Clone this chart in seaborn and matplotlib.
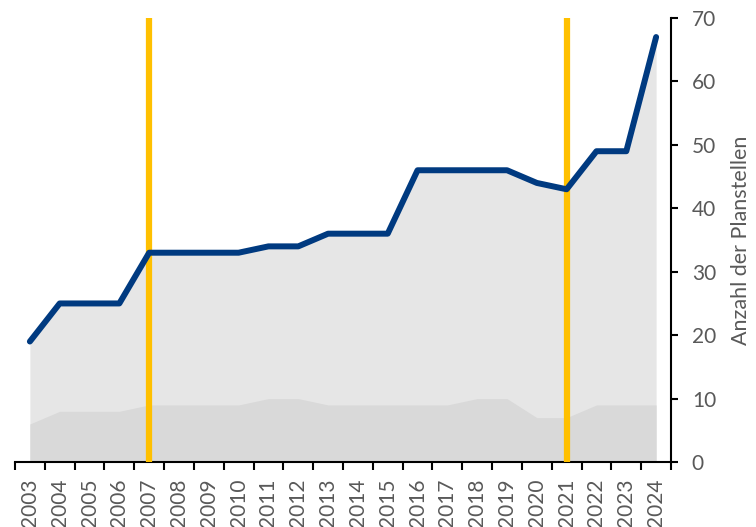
import numpy as np
import pandas as pd
import seaborn as sns
from matplotlib import pyplot as plt
from matplotlib.ticker import FixedLocator, NullFormatter

years = list(range(2003, 2025))
planstellen = [19, 25, 25, 25, 33, 33, 33, 33, 34, 34, 36, 36, 36, 46, 46, 46, 46, 44, 43, 49, 49, 67]
lower_part = [6, 8, 8, 8, 9, 9, 9, 9, 10, 10, 9, 9, 9, 9, 9, 10, 10, 7, 7, 9, 9, 9]
marker_years = [2007, 2021]

BLUE = "#003A80"
ORANGE = "#FFC000"
GRAY_TXT = "#595959"

sns.set_style("white")
plt.rcParams["font.family"] = ["Lato", "DejaVu Sans"]

df = pd.DataFrame({"pos": np.arange(len(years)), "year": years,
                   "total": planstellen, "lower": lower_part})

fig = plt.figure(figsize=(7.56, 5.27), dpi=100)
ax = fig.add_axes([0.0198, 0.1233, 0.8678, 0.8425])

ax.fill_between(df["pos"], 0, df["total"], color="#E6E6E6", linewidth=0)
ax.fill_between(df["pos"], 0, df["lower"], color="#D9D9D9", linewidth=0)

for yr in marker_years:
    ax.axvline(years.index(yr), color=ORANGE, linewidth=4.5, zorder=3)

sns.lineplot(data=df, x="pos", y="total", color=BLUE, linewidth=4.3, ax=ax,
             solid_capstyle="round", zorder=4)

ax.set_xlim(-0.5, len(years) - 0.5)
ax.set_ylim(0, 70)

# x: boundary ticks (major) and year labels at the centres (minor)
ax.xaxis.set_major_locator(FixedLocator(np.arange(-0.5, len(years), 1.0)))
ax.xaxis.set_major_formatter(NullFormatter())
ax.set_xticks(df["pos"].values, [str(y) for y in years], minor=True)
ax.tick_params(axis="x", which="major", direction="out", length=6, width=1.5,
               color="black", bottom=True)
ax.tick_params(axis="x", which="minor", length=0, pad=12, labelsize=15,
               labelcolor=GRAY_TXT, labelrotation=90, bottom=True)

ax.yaxis.tick_right()
ax.yaxis.set_label_position("right")
ax.set_yticks(range(0, 71, 10))
ax.tick_params(axis="y", direction="out", length=5, width=1.5, color="black",
               pad=10, labelsize=15, labelcolor=GRAY_TXT, right=True, left=False)
ax.set_ylabel("Anzahl der Planstellen", fontsize=15.5, color=GRAY_TXT, labelpad=11)
ax.set_xlabel("")

for side in ["top", "left"]:
    ax.spines[side].set_visible(False)
for side in ["bottom", "right"]:
    ax.spines[side].set_visible(True)
    ax.spines[side].set_color("black")
    ax.spines[side].set_linewidth(1.5)

fig.savefig("out.png", dpi=100)
